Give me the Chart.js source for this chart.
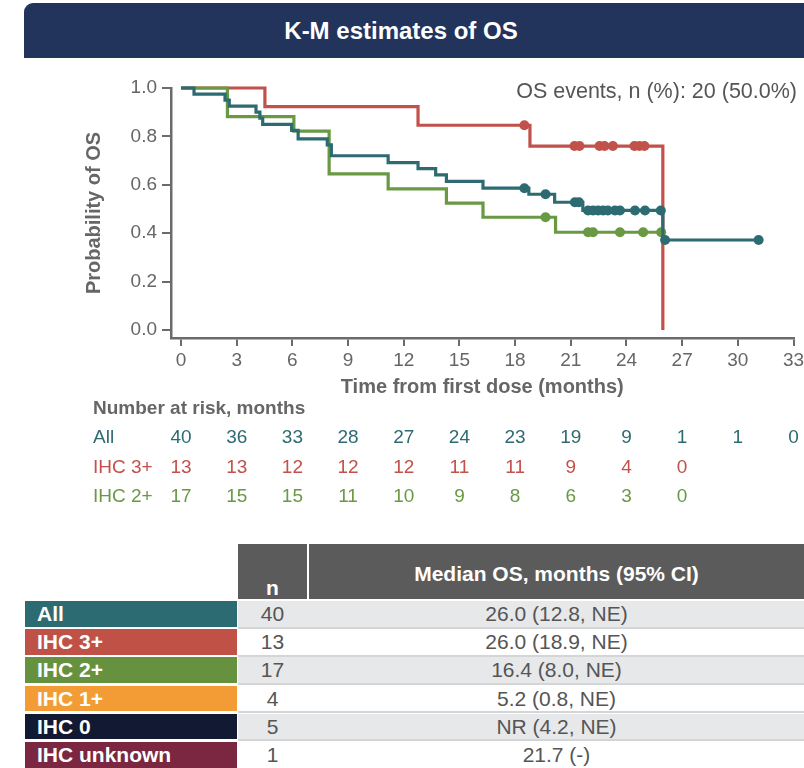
<!DOCTYPE html>
<html>
<head>
<meta charset="utf-8">
<script src="https://cdn.jsdelivr.net/npm/chart.js@4.4.1/dist/chart.umd.min.js"></script>
<style>
  body { margin: 0; width: 804px; height: 768px; overflow: hidden; background: #fff;
         font-family: "Liberation Sans", Arial, sans-serif; position: relative; }
  #banner { position: absolute; left: 24px; top: 3px; width: 800px; height: 55px;
            background: #22345b; border-top-left-radius: 9px; }
  #banner span { position: absolute; left: 0; width: 754px; top: 0; line-height: 56px;
                 text-align: center; color: #fff; font-weight: bold; font-size: 24px; }
  #chartBox { position: absolute; left: 0; top: 60px; width: 812px; height: 460px; }
  .hd { position: absolute; background: #5b5b5b; color: #fff; font-weight: bold; font-size: 21px; }
  .lab { position: absolute; left: 25px; width: 212px; height: 25.6px; line-height: 26px;
         color: #fff; font-weight: bold; font-size: 21px; padding-left: 12px; box-sizing: border-box; }
  .row { position: absolute; left: 238px; width: 566px; height: 25.7px; border-bottom: 2.5px solid #d4d5d7;
         color: #555; font-size: 21px; line-height: 26px; }
  .row .n { position: absolute; left: 0; width: 69px; text-align: center; }
  .row .m { position: absolute; left: 71px; width: 495px; text-align: center; }
</style>
</head>
<body>
<div id="banner"><span>K-M estimates of OS</span></div>
<div id="chartBox"><canvas id="km"></canvas></div>
<div class="hd" style="left:238px;top:544px;width:69px;height:55px;">
  <span style="position:absolute;left:0;width:69px;text-align:center;top:32px;">n</span></div>
<div class="hd" style="left:309px;top:544px;width:495px;height:55px;">
  <span style="position:absolute;left:0;width:495px;text-align:center;top:18px;">Median OS, months (95% CI)</span></div>
<div id="tbl"></div>

<script>
// ---- K-M curves (time in months, survival probability) ----
const allTimes = [0, 0.70, 2.37, 2.60, 4.04, 4.25, 4.40, 5.96, 6.31, 7.88, 8.10, 11.16, 12.77, 13.72, 14.30, 16.27, 18.74, 20.13, 21.65, 25.96, 31.12];
const allSurv  = [1.0, 0.975, 0.95, 0.925, 0.90, 0.875, 0.85, 0.825, 0.79, 0.765, 0.72, 0.692, 0.667, 0.641, 0.614, 0.586, 0.561, 0.528, 0.494, 0.372, 0.372];
const allCens  = [18.5, 19.64, 21.22, 21.44, 21.93, 22.2, 22.47, 22.74, 23.0, 23.38, 23.65, 24.46, 25.0, 25.85, 26.08, 31.12];

const ihc3Times = [0, 4.52, 12.77, 18.8, 25.96];
const ihc3Surv  = [1.0, 0.923, 0.846, 0.76, 0.0];
const ihc3Cens  = [18.5, 21.2, 21.47, 22.55, 22.82, 23.27, 24.43, 24.7, 24.97];

const ihc2Times = [0, 2.5, 6.08, 7.98, 11.16, 14.3, 16.27, 20.18, 25.87];
const ihc2Surv  = [1.0, 0.882, 0.822, 0.645, 0.583, 0.524, 0.466, 0.404, 0.404];
const ihc2Cens  = [19.64, 21.93, 22.2, 23.65, 24.9, 25.87];

// ---- number at risk ----
const riskTimes = [0, 3, 6, 9, 12, 15, 18, 21, 24, 27, 30, 33];
const riskAll  = [40, 36, 33, 28, 27, 24, 23, 19, 9, 1, 1, 0];
const riskIhc3 = [13, 13, 12, 12, 12, 11, 11, 9, 4, 0];
const riskIhc2 = [17, 15, 15, 11, 10, 9, 8, 6, 3, 0];
const riskLabels = ["All", "IHC 3+", "IHC 2+"];

const eventsText = "OS events, n (%): 20 (50.0%)";

// ---- median table ----
const groups  = ["All", "IHC 3+", "IHC 2+", "IHC 1+", "IHC 0", "IHC unknown"];
const groupN  = [40, 13, 17, 4, 5, 1];
const medians = ["26.0 (12.8, NE)", "26.0 (18.9, NE)", "16.4 (8.0, NE)", "5.2 (0.8, NE)", "NR (4.2, NE)", "21.7 (-)"];

const TEAL = "#2d6b72", RED = "#c1514a", GREEN = "#6a9944";
const groupColors = [TEAL, "#bf5147", "#66913f", "#f39c36", "#121a33", "#7b2742"];

// build table
const tbl = document.getElementById("tbl");
groups.forEach(function (g, i) {
    let top = 601 + i * 28.2;
    let lab = document.createElement("div");
    lab.className = "lab";
    lab.style.top = top + "px";
    lab.style.background = groupColors[i];
    lab.innerText = g;
    tbl.appendChild(lab);

    let row = document.createElement("div");
    row.className = "row";
    row.style.top = top + "px";
    row.style.background = i % 2 === 0 ? "#e7e8ea" : "#fff";
    row.innerHTML = '<span class="n">' + groupN[i] + '</span><span class="m">' + medians[i] + '</span>';
    tbl.appendChild(row);
});

function toPoints(times, surv) {
    return times.map((t, i) => ({x: t, y: surv[i]}));
}
// censor marks sit on the curve
function censorPoints(times, surv, cens) {
    return cens.map(function (c) {
        let s = surv[0];
        for (let i = 0; i < times.length; i++) if (times[i] <= c) s = surv[i];
        return {x: c, y: s};
    });
}

function lineSet(data, color, order) {
    return {data: data, borderColor: color, borderWidth: 3.2, pointRadius: 0,
            stepped: "before", fill: false, clip: false, order: order};
}
function censSet(data, color, order) {
    return {data: data, showLine: false, pointRadius: 5, pointHoverRadius: 5,
            pointBackgroundColor: color, pointBorderWidth: 0, borderColor: color,
            clip: false, order: order};
}

const FONT = '"Liberation Sans", Arial, sans-serif';
Chart.defaults.font.family = FONT;

const riskPlugin = {
    id: "riskPlugin",
    afterDraw(chart) {
        const ctx = chart.ctx, xs = chart.scales.x;
        ctx.save();
        ctx.textBaseline = "middle";
        ctx.fillStyle = "#666";
        ctx.textAlign = "left";
        ctx.font = "bold 19px " + FONT;
        ctx.fillText("Number at risk, months", 93, 349);

        const rows = [riskAll, riskIhc3, riskIhc2];
        const cols = [TEAL, RED, GREEN];
        rows.forEach(function (vals, r) {
            let y = 378 + r * 29.5;
            ctx.font = "19px " + FONT;
            ctx.fillStyle = cols[r];
            ctx.textAlign = "left";
            ctx.fillText(riskLabels[r], 93, y);
            ctx.textAlign = "center";
            vals.forEach(function (v, i) {
                ctx.fillText(String(v), xs.getPixelForValue(riskTimes[i]), y);
            });
        });

        ctx.font = "21.5px " + FONT;
        ctx.fillStyle = "#555";
        ctx.textAlign = "right";
        ctx.fillText(eventsText, 797, 32);
        ctx.restore();
    }
};

const AXIS = "#6b6b6b";

new Chart(document.getElementById("km"), {
    type: "line",
    data: {
        datasets: [
            censSet(censorPoints(allTimes, allSurv, allCens), TEAL, 0),
            lineSet(toPoints(allTimes, allSurv), TEAL, 1),
            censSet(censorPoints(ihc2Times, ihc2Surv, ihc2Cens), GREEN, 2),
            lineSet(toPoints(ihc2Times, ihc2Surv), GREEN, 3),
            censSet(censorPoints(ihc3Times, ihc3Surv, ihc3Cens), RED, 4),
            lineSet(toPoints(ihc3Times, ihc3Surv), RED, 5)
        ]
    },
    options: {
        responsive: true,
        maintainAspectRatio: false,
        animation: false,
        layout: {padding: {left: 80, top: 28, right: 18.5, bottom: 0}},
        plugins: {legend: {display: false}, tooltip: {enabled: false}},
        scales: {
            x: {
                type: "linear",
                min: -0.54, max: 33,
                afterFit: function (s) { s.height = 182; },
                ticks: {stepSize: 3, includeBounds: false, autoSkip: false, maxRotation: 0,
                        color: "#666", font: {size: 19}, padding: 3},
                grid: {display: true, drawOnChartArea: false, drawTicks: true, tickLength: 8,
                       color: AXIS, lineWidth: 2},
                border: {display: true, color: AXIS, width: 2.5},
                title: {display: true, text: "Time from first dose (months)", color: "#666",
                        font: {size: 20, weight: "bold"}, padding: {top: 0, bottom: 121}}
            },
            y: {
                min: -0.033, max: 1.0,
                afterFit: function (s) { s.width = 91; },
                ticks: {stepSize: 0.2, includeBounds: false, color: "#666", font: {size: 19},
                        padding: 5, callback: v => v.toFixed(1)},
                grid: {display: true, drawOnChartArea: false, drawTicks: true, tickLength: 9,
                       color: AXIS, lineWidth: 2},
                border: {display: true, color: AXIS, width: 2.5},
                title: {display: true, text: "Probability of OS", color: "#666",
                        font: {size: 20, weight: "bold"}, padding: {top: 2, bottom: 0}}
            }
        }
    },
    plugins: [riskPlugin]
});
</script>
</body>
</html>
